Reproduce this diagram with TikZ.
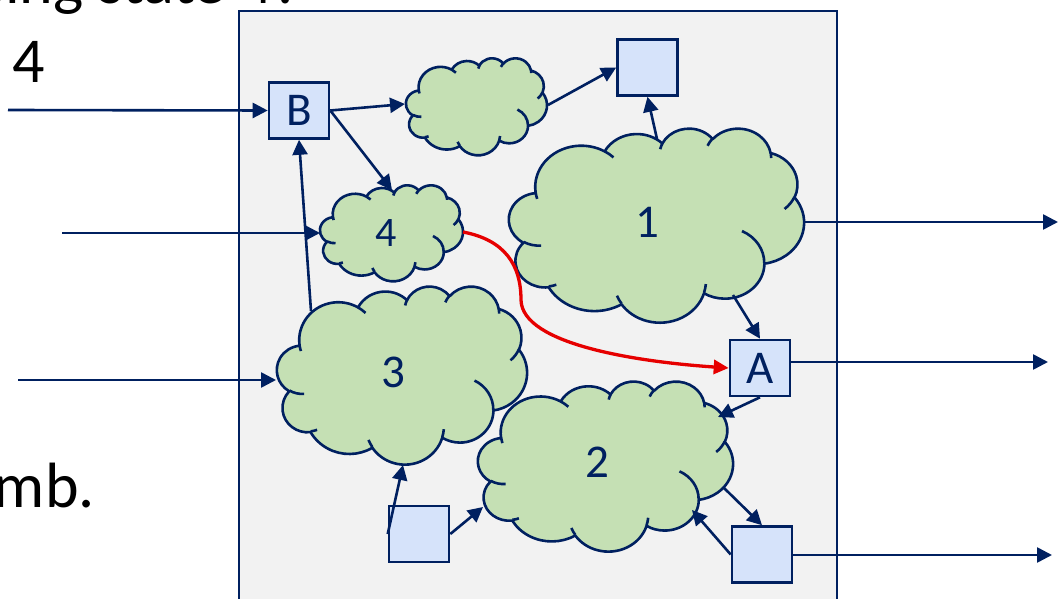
\documentclass[tikz,border=0pt]{standalone}
\usepackage{fontspec}
\setmainfont{Carlito}
\usetikzlibrary{arrows.meta}
\definecolor{navy}{HTML}{002060}
\definecolor{cgreen}{HTML}{C5E0B4}
\definecolor{cblue}{HTML}{D6E3FA}
\definecolor{panelgray}{HTML}{F2F2F2}
\definecolor{cred}{HTML}{E60000}

\tikzset{
  conn/.style={draw=navy, line width=2.6pt, -{Triangle[length=15pt,width=15pt]}},
  redconn/.style={draw=cred, line width=3.3pt, -{Triangle[length=15pt,width=14pt]}},
  sq/.style={draw=navy, fill=cblue, line width=2.6pt, minimum width=60pt, minimum height=56pt, inner sep=0pt, text=navy, font=\fontsize{47}{50}\selectfont},
  cloudsty/.style={draw=navy, fill=cgreen, line width=2.6pt, line join=round},
  cloudline/.style={draw=navy, line width=2.6pt},
  clab/.style={text=navy, inner sep=0pt, font=\fontsize{47}{50}\selectfont},
  slidetxt/.style={text=black, inner sep=0pt, font=\fontsize{64}{70}\selectfont},
  panelbox/.style={draw=navy, fill=panelgray, line width=2.8pt},
}

% arc of the cloud outline: angles are taken on the unscaled ellipse,
% radii are scaled to the cloud's size
\newcommand{\cloudarc}[4]{%
  \pgfmathsetmacro\arcX{\cw*#1/43.2}%
  \pgfmathsetmacro\arcY{\ch*#2/43.2}%
  \pgfmathsetmacro\tS{atan2(#1*sin(#3),#2*cos(#3))}%
  \pgfmathsetmacro\tE{atan2(#1*sin(#3+#4),#2*cos(#3+#4))}%
  \pgfmathsetmacro\arcD{-mod(\tE-\tS+720,360)}%
  \pgfmathsetmacro\arcS{-\tS}%
}

\newcommand{\cloudshape}[4]{%
  \pgfmathsetmacro\cx{#1}\pgfmathsetmacro\cy{#2}%
  \pgfmathsetmacro\cw{#3}\pgfmathsetmacro\ch{#4}%
  \filldraw[cloudsty] ({\cx+\cw*3.9/43.2},{\cy+\ch*14.37/43.2})
  \foreach \wr/\hr/\st/\sw in {6.753/9.190/-190.4875/123.7805,
      5.333/7.267/-144.1024/89.9452, 4.365/5.945/-145.8079/99.7230,
      4.857/6.595/-130.9861/117.2417, 5.333/7.273/-78.7089/109.0269,
      6.775/9.220/-46.2673/130.2690, 5.785/7.867/0.6250/114.0333,
      6.752/9.215/22.4516/115.1726, 7.720/10.543/66.2426/75.7110,
      4.360/5.918/-274.9421/146.7356, 4.345/5.945/-246.8285/152.5189}{
    \pgfextra{\cloudarc{\wr}{\hr}{\st}{\sw}}
    arc[start angle=\arcS, delta angle=\arcD, x radius=\arcX pt, y radius=\arcY pt]
  } -- cycle;
  \draw[cloudline]
  \foreach \px/\py/\wr/\hr/\st/\sw in {4.693/26.177/4.345/5.945/86.7420/26.4295,
      6.928/34.899/4.360/5.918/73.6105/11.4475,
      16.478/39.090/6.752/9.215/137.6242/14.0811,
      28.827/34.751/6.752/9.215/6.4533/15.9984,
      34.129/22.954/5.785/7.867/-70.2924/70.9174,
      41.798/15.354/5.333/7.273/30.3180/27.7515,
      38.324/5.426/4.857/6.595/-13.7443/14.8589,
      29.078/3.952/4.857/6.595/-149.1815/18.1954,
      22.141/4.720/4.365/5.945/-163.4943/17.6864,
      14.000/5.192/6.753/9.190/-66.7070/12.3194,
      4.127/15.789/6.753/9.190/157.6544/11.8582}{
    ({\cx+\cw*\px/43.2},{\cy+\ch*\py/43.2})
    \pgfextra{\cloudarc{\wr}{\hr}{\st}{\sw}}
    arc[start angle=\arcS, delta angle=\arcD, x radius=\arcX pt, y radius=\arcY pt]
  };
}

\begin{document}
\begin{tikzpicture}[x=1pt,y=-1pt]
\useasboundingbox (0,0) rectangle (1058,599);
\clip (0,0) rectangle (1058,599);

% slide text fragments
\node[slidetxt, anchor=base west] (toptxt) at (-20,4) {sing state 4?};
\node[slidetxt, anchor=base west] (four) at (12,83) {4};
\node[slidetxt, anchor=base east] (mbtxt) at (95,507) {mb.};

% panel
\path[panelbox] (239,11) rectangle (837,640);

% clouds
\cloudshape{406}{58}{141}{97}
\cloudshape{320}{185}{143}{96}
\cloudshape{509}{128}{295}{194}
\cloudshape{277}{286}{250}{178}
\cloudshape{478}{381}{255}{170}

% cloud labels
\node[clab] (c1) at (647,222) {1};
\node[clab] (c2) at (597,462.5) {2};
\node[clab] (c3) at (393.5,372) {3};
\node[clab, font=\fontsize{42}{46}\selectfont] (c4) at (386.5,233.5) {4};

% boxes
\node[sq] (B) at (299,110.5) {B};
\node[sq] (T) at (647.5,67.5) {};
\node[sq] (A) at (760,368) {A};
\node[sq] (L) at (419,534) {};
\node[sq] (R) at (762,554.5) {};

% connector end points
\coordinate (in1) at (8,110);
\coordinate (in2) at (62,233);
\coordinate (in3) at (18,380);
\coordinate (c4w) at (320,233);
\coordinate (c3w) at (276,380);
\coordinate (scw) at (405,104);
\coordinate (sce) at (548,105);
\coordinate (c4n) at (392,190);
\coordinate (c4e) at (463,232);
\coordinate (c3n) at (311,311);
\coordinate (c3s) at (403,465);
\coordinate (c1n) at (657,139);
\coordinate (c1e) at (805,222);
\coordinate (c1s) at (733,295);
\coordinate (c2ne) at (718,417);
\coordinate (c2se) at (724,488);
\coordinate (c2s) at (692,510);
\coordinate (c2w) at (483,507);
\coordinate (o1) at (1058,222);
\coordinate (o2) at (1048,362);
\coordinate (o3) at (1052,555);

% connectors
\draw[conn] (in1) -- (B.west);
\draw[conn] (in2) -- (c4w);
\draw[conn] (in3) -- (c3w);
\draw[conn] (B.east) -- (scw);
\draw[conn] (B.east) -- (c4n);
\draw[conn] (c3n) -- (B.south);
\draw[conn] (sce) -- (T.west);
\draw[conn] (c1n) -- (T.south);
\draw[conn] (c1e) -- (o1);
\draw[conn] (c1s) -- (A.north);
\draw[conn] (A.east |- o2) -- (o2);
\draw[conn] (A.south) -- (c2ne);
\draw[conn] (R.east |- o3) -- (o3);
\draw[conn] (c2se) -- (R.north);
\draw[conn] (R.west) -- (c2s);
\draw[conn] (L.east) -- (c2w);
\draw[conn] (L.west) -- (c3s);
\draw[redconn] (c4e) .. controls (505,240) and (521,265) .. (521,300)
   .. controls (522,345) and (640,362) .. (A.west);
\end{tikzpicture}
\end{document}
